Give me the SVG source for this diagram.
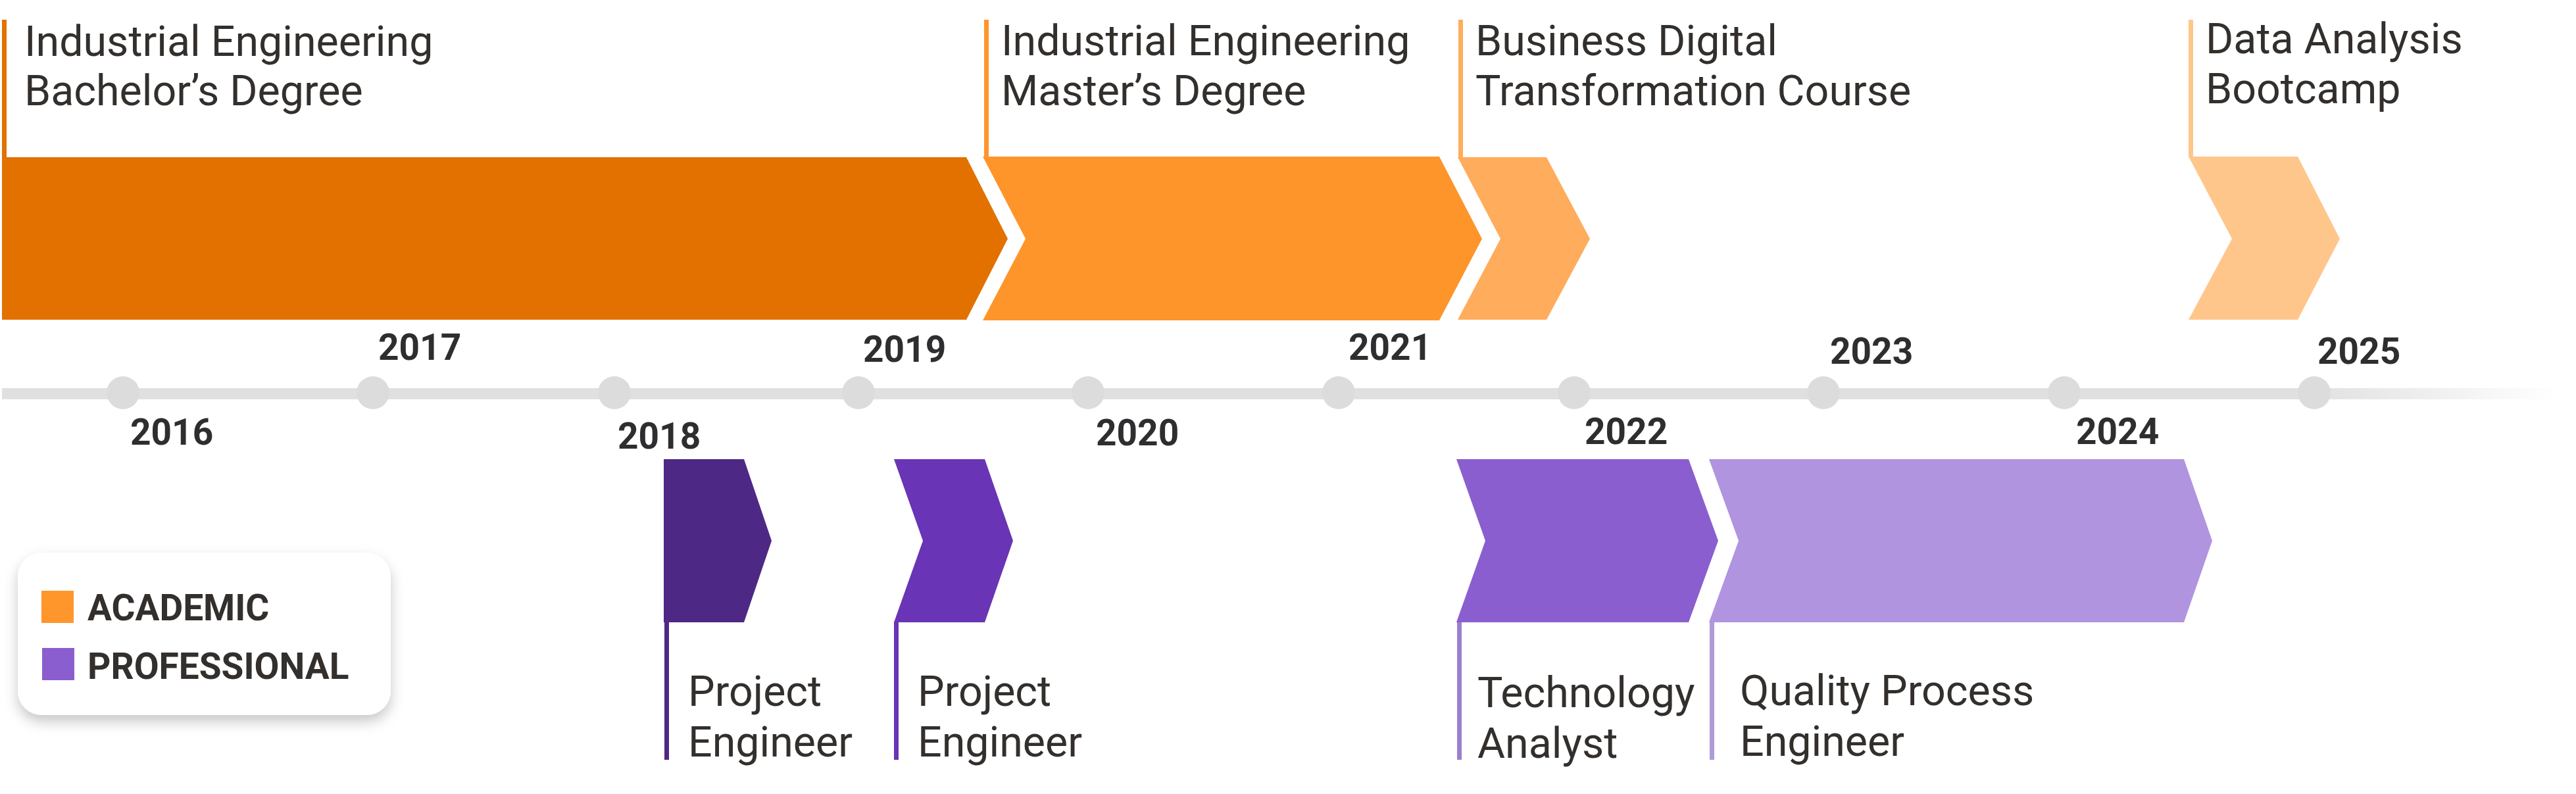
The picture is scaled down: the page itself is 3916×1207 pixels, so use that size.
<svg xmlns="http://www.w3.org/2000/svg" width="3916" height="1207" viewBox="0 0 3916 1207">
<style>
.lbl{font-family:Roboto,"Liberation Sans",sans-serif;font-size:64.5px;fill:#332f2c}
.yr{font-family:Roboto,"Liberation Sans",sans-serif;font-size:55px;font-weight:700;fill:#2e2e30}
.leg{font-family:Roboto,"Liberation Sans",sans-serif;font-size:55px;font-weight:700;fill:#332f2c}
.dot{fill:#dcdcdc}
</style>
<defs>
<linearGradient id="axisGrad" x1="0" y1="0" x2="1" y2="0">
<stop offset="0" stop-color="#e0e0e0"/>
<stop offset="0.9" stop-color="#e0e0e0"/>
<stop offset="1" stop-color="#e0e0e0" stop-opacity="0"/>
</linearGradient>
<filter id="shadow" x="-10%" y="-20%" width="120%" height="150%">
<feDropShadow dx="0" dy="10" stdDeviation="10" flood-color="#000" flood-opacity="0.22"/>
</filter>
</defs>
<rect width="3916" height="1207" fill="#fff"/>

<g id="axis">
<rect x="3" y="590" width="3888" height="17" fill="url(#axisGrad)"/>
<circle class="dot" cx="187" cy="597" r="25"/>
<circle class="dot" cx="567" cy="597" r="25"/>
<circle class="dot" cx="934" cy="597" r="25"/>
<circle class="dot" cx="1305" cy="597" r="25"/>
<circle class="dot" cx="1654" cy="597" r="25"/>
<circle class="dot" cx="2035" cy="597" r="25"/>
<circle class="dot" cx="2393" cy="597" r="25"/>
<circle class="dot" cx="2772" cy="597" r="25"/>
<circle class="dot" cx="3138" cy="597" r="25"/>
<circle class="dot" cx="3518" cy="597" r="25"/>
<text class="yr" x="198" y="676">2016</text>
<text class="yr" x="575" y="547">2017</text>
<text class="yr" x="939" y="682">2018</text>
<text class="yr" x="1312" y="550">2019</text>
<text class="yr" x="1666" y="677">2020</text>
<text class="yr" x="2050" y="547">2021</text>
<text class="yr" x="2409" y="675">2022</text>
<text class="yr" x="2782" y="553">2023</text>
<text class="yr" x="3156" y="675">2024</text>
<text class="yr" x="3523" y="553">2025</text>
</g>

<g id="connectors">
<rect x="3" y="30" width="7" height="210" fill="#e27100"/>
<rect x="1496" y="30" width="7" height="209" fill="#fe952b"/>
<rect x="2217" y="30" width="7" height="210" fill="#ffac5c"/>
<rect x="3327" y="30" width="7" height="209" fill="#ffc68b"/>
<rect x="1010" y="945" width="7" height="210" fill="#4e2885"/>
<rect x="1359" y="945" width="7" height="210" fill="#6934b5"/>
<rect x="2215" y="945" width="7" height="210" fill="#9b7fcd"/>
<rect x="2599" y="945" width="7" height="210" fill="#b09ad8"/>
</g>

<g id="bachelor">
<polygon points="3,239 1469,239 1532,363 1469,486 3,486" fill="#e27100"/>
<text class="lbl" x="37" y="85">Industrial Engineering</text>
<text class="lbl" x="37" y="160">Bachelor’s Degree</text>
</g>

<g id="master">
<polygon points="1494,238 2188,238 2253,363 2188,487 1494,487 1559,363" fill="#fe952b"/>
<text class="lbl" x="1522" y="84">Industrial Engineering</text>
<text class="lbl" x="1522" y="160">Master’s Degree</text>
</g>

<g id="course">
<polygon points="2216,239 2351,239 2417,363 2351,486 2216,486 2281,363" fill="#ffac5c"/>
<text class="lbl" x="2243" y="84">Business Digital</text>
<text class="lbl" x="2243" y="160">Transformation Course</text>
</g>

<g id="bootcamp">
<polygon points="3327,238 3493,238 3557,363 3493,486 3327,486 3393,363" fill="#ffc68b"/>
<text class="lbl" x="3353" y="81">Data Analysis</text>
<text class="lbl" x="3353" y="157">Bootcamp</text>
</g>

<g id="project1">
<polygon points="1009,698 1131,698 1173,822 1131,946 1009,946" fill="#4e2885"/>
<text class="lbl" x="1046" y="1073">Project</text>
<text class="lbl" x="1046" y="1150">Engineer</text>
</g>

<g id="project2">
<polygon points="1359,698 1497,698 1540,822 1497,946 1359,946 1403,822" fill="#6934b5"/>
<text class="lbl" x="1395" y="1073">Project</text>
<text class="lbl" x="1395" y="1150">Engineer</text>
</g>

<g id="analyst">
<polygon points="2214,698 2567,698 2612,822 2567,946 2214,946 2258,822" fill="#8b5ecf"/>
<text class="lbl" x="2246" y="1075">Technology</text>
<text class="lbl" x="2246" y="1152">Analyst</text>
</g>

<g id="quality">
<polygon points="2598,698 3320,698 3363,822 3320,946 2598,946 2643,822" fill="#b194df"/>
<text class="lbl" x="2645" y="1072">Quality Process</text>
<text class="lbl" x="2645" y="1149">Engineer</text>
</g>

<g id="legend">
<rect x="27" y="840" width="567" height="247" rx="37" ry="37" fill="#fff" filter="url(#shadow)"/>
<rect x="63" y="898" width="49" height="49" fill="#fe962b"/>
<rect x="64" y="985" width="49" height="49" fill="#8b5ecf"/>
<text class="leg" x="133" y="943">ACADEMIC</text>
<text class="leg" x="133" y="1032">PROFESSIONAL</text>
</g>
</svg>
